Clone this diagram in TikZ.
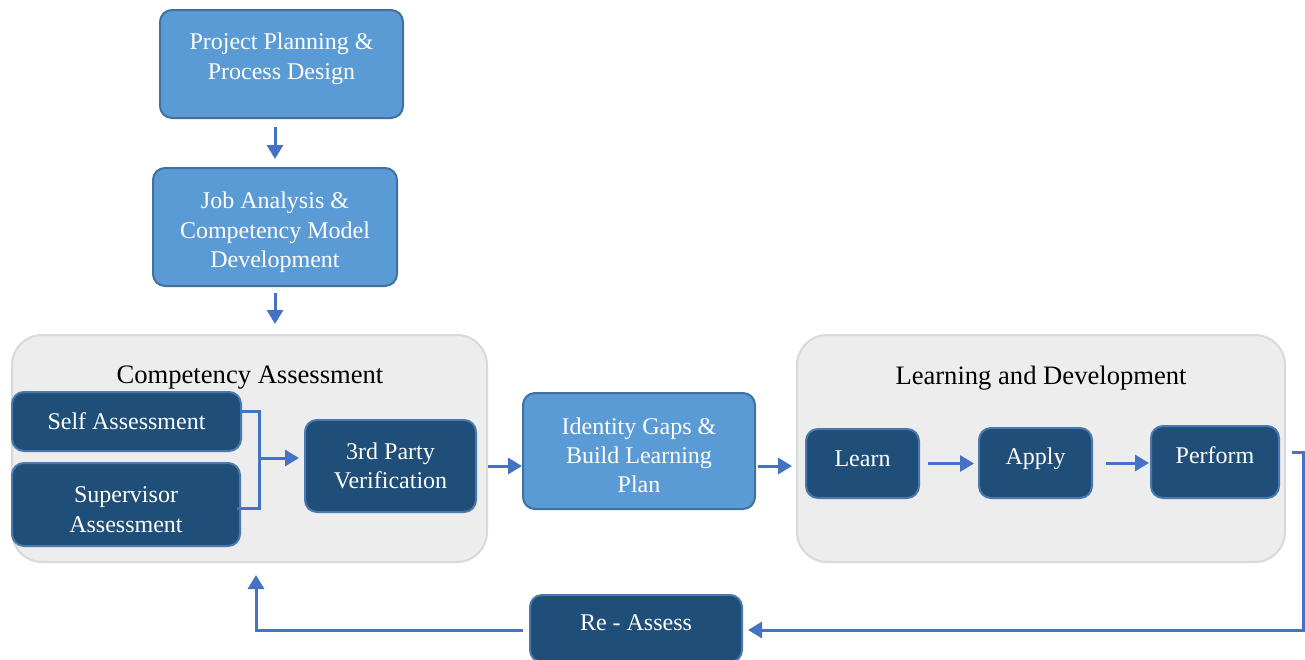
\documentclass[tikz,border=0pt]{standalone}
\usepackage{fontspec}
\setmainfont{Liberation Serif}
\usepackage{xcolor}
\usetikzlibrary{calc, positioning, arrows.meta}
\definecolor{lightblue}{HTML}{5B9BD5}
\definecolor{lightedge}{HTML}{41719C}
\definecolor{darkblue}{HTML}{1F4E79}
\definecolor{darkedge}{HTML}{4A79AD}
\definecolor{flowblue}{HTML}{4472C4}
\definecolor{panelfill}{HTML}{EDEDED}
\definecolor{paneledge}{HTML}{D9D9D9}

\begin{document}
\begin{tikzpicture}[x=0.5pt,y=-0.5pt,
                    light node/.style={draw=lightedge,fill=lightblue,line width=1pt,rounded corners=6pt,text=white,align=center,inner sep=0pt,font=\fontsize{12}{14.7}\selectfont},
                    dark node/.style={light node,draw=darkedge,fill=darkblue},
                    panel/.style={draw=paneledge,fill=panelfill,line width=1pt,rounded corners=15pt},
                    title/.style={font=\fontsize{13.3}{16}\selectfont},
                    flow line/.style={draw=flowblue,line width=1.5pt},
                    flow/.style={flow line,-{Triangle[length=7pt,width=8pt]}}]

  \useasboundingbox (0,0) rectangle (1305,659);

  % the two grey panels
  \node[panel, minimum width=237.5pt, minimum height=113.5pt] (compa) at (249.5,448.5) {};
  \node[title] (compatitle) at (250,378) {Competency Assessment};
  \node[panel, minimum width=244pt, minimum height=113.5pt] (learndev) at (1041,448.5) {};
  \node[title] (learndevtitle) at (1041,378) {Learning and Development};

  % process boxes
  \node[light node, minimum width=121.5pt, minimum height=54pt, text depth=8pt] (plan) at (281.5,64) {Project Planning \&\\Process Design};
  \node[light node, minimum width=122pt, minimum height=59pt, text height=43pt] (job) at (275,227) {Job Analysis \&\\Competency Model\\Development};
  \node[dark node, minimum width=114.5pt, minimum height=29.5pt] (self) at (126.5,421.5) {Self Assessment};
  \node[dark node, minimum width=114pt, minimum height=41.5pt, text height=28pt] (sup) at (126,504.5) {Supervisor\\Assessment};
  \node[dark node, minimum width=85.5pt, minimum height=46pt] (third) at (390.5,466) {3rd Party\\Verification};
  \node[light node, minimum width=116pt, minimum height=58pt, text height=42pt] (gaps) at (639,451) {Identity Gaps \&\\Build Learning\\Plan};
  \node[dark node, minimum width=56.5pt, minimum height=34.5pt, text depth=4.5pt] (learn) at (862.5,463.5) {Learn};
  \node[dark node, minimum width=56.5pt, minimum height=35pt, text depth=7pt] (apply) at (1035.5,463) {Apply};
  \node[dark node, minimum width=64pt, minimum height=36pt, text depth=7pt] (perform) at (1215,462) {Perform};
  \node[dark node, minimum width=106pt, minimum height=33.5pt, text depth=5.5pt] (reassess) at (636,628.5) {Re - Assess};

  \coordinate (join) at (259,458);
  \coordinate (fbtop) at (1303,452);
  \coordinate (fbbot) at (1303,630);
  \coordinate (ret) at (256,575);

  % connectors
  \draw[flow, shorten <=4pt, shorten >=4pt] (plan.south -| job.north) -- (job.north);
  \draw[flow, shorten <=3pt, shorten >=5pt] (job.south) -- (job.south |- compa.north);
  \draw[flow line] ([yshift=5pt]self.east) -| (join) |- ([xshift=-2pt,yshift=-2pt]sup.east);
  \draw[flow, shorten >=2.5pt] (join) -- (join -| third.west);
  \draw[flow] (compa.east |- third) -- (gaps.west |- third);
  \draw[flow, shorten <=1pt, shorten >=2pt] (gaps.east |- third) -- (learndev.west |- third);
  \draw[flow, shorten <=4pt, shorten >=2pt] (learn.east) -- (learn.east -| apply.west);
  \draw[flow, shorten <=6.5pt, shorten >=0.5pt] (apply.east) -- (apply.east -| perform.west);
  \draw[flow, shorten >=2.5pt] ([xshift=6pt,yshift=5pt]perform.east) -- (fbtop) -- (fbbot) -- (reassess.east |- fbbot);
  \draw[flow, shorten <=3pt] (reassess.west |- fbbot) -| (ret);

\end{tikzpicture}
\end{document}
